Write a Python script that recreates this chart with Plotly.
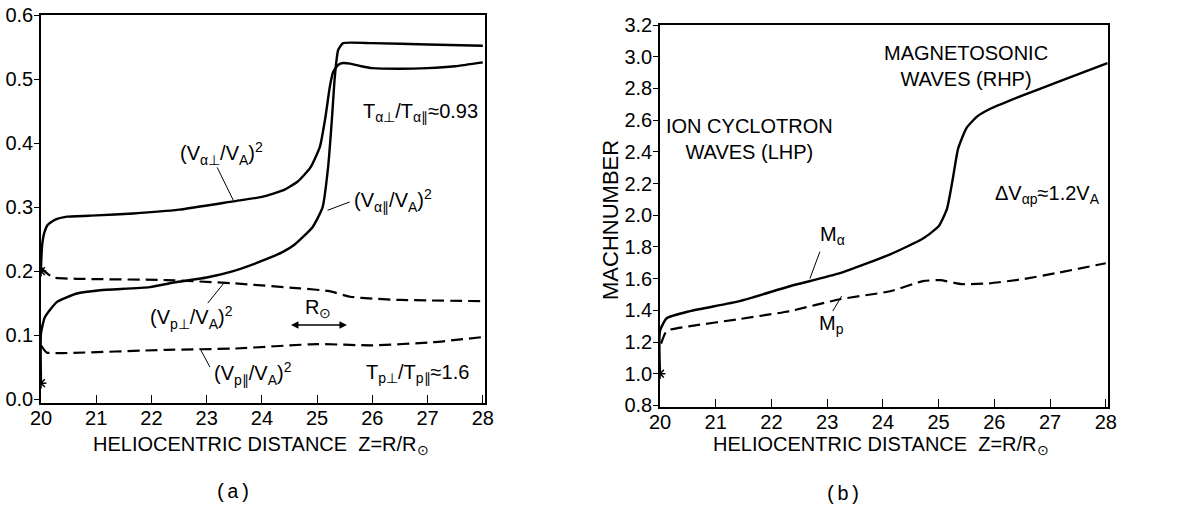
import plotly.graph_objects as go

# ---------------- data : panel (a) ----------------
va_perp_x = [20.0, 20.02, 20.06, 20.12, 20.25, 20.47, 21.0, 21.67, 22.5, 23.48, 24.0, 24.38, 24.65,
             24.88, 25.05, 25.15, 25.23, 25.29, 25.38, 25.47, 25.6, 25.8, 26.0, 26.5, 27.0, 27.5, 28.0]
va_perp_y = [0.205, 0.24, 0.26, 0.272, 0.28, 0.285, 0.287, 0.290, 0.296, 0.309, 0.316, 0.326, 0.340,
             0.362, 0.394, 0.44, 0.488, 0.511, 0.522, 0.525, 0.524, 0.52, 0.517, 0.516, 0.517, 0.52, 0.526]

va_par_x = [20.0, 20.0, 20.07, 20.29, 20.65, 21.07, 21.97, 22.46, 23.0, 23.48, 24.09, 24.38, 24.6,
            24.92, 25.1, 25.2, 25.27, 25.32, 25.38, 25.47, 26.0, 27.0, 28.0]
va_par_y = [0.025, 0.103, 0.128, 0.152, 0.165, 0.170, 0.175, 0.183, 0.19, 0.20, 0.219, 0.23, 0.242,
            0.269, 0.30, 0.363, 0.44, 0.503, 0.545, 0.556, 0.556, 0.554, 0.552]

vp_perp_x = [20.0, 20.06, 20.22, 20.65, 22.27, 23.48, 24.69, 25.2, 25.6, 26.0, 26.5, 28.0]
vp_perp_y = [0.205, 0.2, 0.19, 0.188, 0.186, 0.181, 0.173, 0.169, 0.16, 0.157, 0.155, 0.153]

vp_par_x = [20.0, 20.1, 20.4, 22.27, 23.48, 25.0, 26.0, 27.1, 28.0]
vp_par_y = [0.084, 0.073, 0.072, 0.077, 0.079, 0.086, 0.084, 0.089, 0.097]

start_marks_a_x = [20.0, 20.0]
start_marks_a_y = [0.025, 0.2]

# ---------------- data : panel (b) ----------------
ma_x = [20.0, 20.0, 20.12, 20.54, 21.43, 22.33, 23.23, 24.13, 24.72, 25.0, 25.15, 25.25, 25.35,
        25.5, 25.7, 25.92, 26.51, 27.12, 28.03]
ma_y = [1.0, 1.27, 1.35, 1.395, 1.458, 1.552, 1.634, 1.753, 1.853, 1.93, 2.04, 2.22, 2.42,
        2.55, 2.625, 2.67, 2.756, 2.838, 2.96]

mp_x = [20.02, 20.12, 20.54, 21.43, 22.33, 23.23, 24.13, 24.72, 25.03, 25.43, 25.9, 26.5, 27.1, 28.0]
mp_y = [1.19, 1.27, 1.30, 1.345, 1.395, 1.47, 1.52, 1.584, 1.59, 1.565, 1.57, 1.596, 1.634, 1.697]

start_marks_b_x = [20.0]
start_marks_b_y = [1.0]

x_ticks = [20, 21, 22, 23, 24, 25, 26, 27, 28]
ya_ticks = [0.0, 0.1, 0.2, 0.3, 0.4, 0.5, 0.6]
yb_ticks = [0.8, 1.0, 1.2, 1.4, 1.6, 1.8, 2.0, 2.2, 2.4, 2.6, 2.8, 3.0, 3.2]

FONT = "Liberation Sans"
fig = go.Figure()

solid = dict(color="black", width=2.4, shape="spline", smoothing=0.5)
dashed = dict(color="black", width=2.2, dash="12px,6px", shape="spline", smoothing=0.5)

fig.add_trace(go.Scatter(x=va_perp_x, y=va_perp_y, mode="lines", line=solid, xaxis="x", yaxis="y"))
fig.add_trace(go.Scatter(x=va_par_x, y=va_par_y, mode="lines", line=solid, xaxis="x", yaxis="y"))
fig.add_trace(go.Scatter(x=vp_perp_x, y=vp_perp_y, mode="lines", line=dashed, xaxis="x", yaxis="y"))
fig.add_trace(go.Scatter(x=vp_par_x, y=vp_par_y, mode="lines", line=dashed, xaxis="x", yaxis="y"))
fig.add_trace(go.Scatter(x=start_marks_a_x, y=start_marks_a_y, mode="markers",
                         marker=dict(symbol="asterisk-open", size=9, color="black",
                                     line=dict(color="black", width=1.5)), xaxis="x", yaxis="y"))

fig.add_trace(go.Scatter(x=ma_x, y=ma_y, mode="lines", line=solid, xaxis="x2", yaxis="y2"))
fig.add_trace(go.Scatter(x=mp_x, y=mp_y, mode="lines", line=dashed, xaxis="x2", yaxis="y2"))
fig.add_trace(go.Scatter(x=start_marks_b_x, y=start_marks_b_y, mode="markers",
                         marker=dict(symbol="asterisk-open", size=9, color="black",
                                     line=dict(color="black", width=1.5)), xaxis="x2", yaxis="y2"))

H = 507
W = 1183
axis_common = dict(showgrid=False, zeroline=False, showline=True, linecolor="black", linewidth=1.5,
                   mirror=True, automargin=False,
                   tickfont=dict(family=FONT, size=20, color="black"))

fig.update_layout(
    width=W, height=H, margin=dict(l=0, r=0, t=0, b=0, autoexpand=False),
    paper_bgcolor="white", plot_bgcolor="white", showlegend=False,
    xaxis=dict(domain=[41 / W, 485 / W], range=[20, 28.04], tickvals=x_ticks, ticks="inside",
               ticklen=8, tickcolor="black", anchor="y", ticklabelstandoff=-4, **axis_common),
    yaxis=dict(domain=[1 - 403 / H, 1 - 15 / H], range=[-0.006, 0.6], tickvals=ya_ticks,
               tickformat=".1f", ticks="outside", ticklen=5, tickcolor="black", anchor="x",
               ticklabelstandoff=-3, **axis_common),
    xaxis2=dict(domain=[660 / W, 1108 / W], range=[20, 28.04], tickvals=x_ticks, ticks="inside",
                ticklen=8, tickcolor="black", anchor="y2", ticklabelstandoff=-4, **axis_common),
    yaxis2=dict(domain=[1 - 407 / H, 1 - 25 / H], range=[0.79, 3.2], tickvals=yb_ticks,
                tickformat=".1f", ticks="outside", ticklen=5, tickcolor="black", anchor="x2",
                ticklabelstandoff=-3, **axis_common),
)

ann = []


def txt(x, y, t, xref="x", yref="y", size=20, family=FONT, angle=0):
    ann.append(dict(x=x, y=y, xref=xref, yref=yref, text=t, showarrow=False,
                    xanchor="center", yanchor="middle",
                    font=dict(family=family, size=size, color="black"), textangle=angle))


# panel (a) labels
txt(26.88, 0.447, "T<sub>α⊥</sub>/T<sub>α∥</sub>≈0.93")
txt(23.26, 0.384, "(V<sub>α⊥</sub>/V<sub>A</sub>)<sup>2</sup>")
txt(26.37, 0.311, "(V<sub>α∥</sub>/V<sub>A</sub>)<sup>2</sup>")
txt(22.73, 0.128, "(V<sub>p⊥</sub>/V<sub>A</sub>)<sup>2</sup>")
txt(23.84, 0.040, "(V<sub>p∥</sub>/V<sub>A</sub>)<sup>2</sup>")
txt(26.82, 0.040, "T<sub>p⊥</sub>/T<sub>p∥</sub>≈1.6")
txt(25.01, 0.142, "R<sub>⊙</sub>")
# R_sun arrow
ann.append(dict(x=25.54, y=0.116, ax=24.5, ay=0.116, xref="x", yref="y", axref="x", ayref="y",
                text="", showarrow=True, arrowhead=2, arrowside="end+start", arrowsize=1,
                arrowwidth=1.5, arrowcolor="black"))

# panel (b) labels
txt(25.49, 2.94, "MAGNETOSONIC<br>WAVES (RHP)", "x2", "y2")
txt(21.6, 2.48, "ION CYCLOTRON<br>WAVES (LHP)", "x2", "y2")
txt(26.96, 2.129, "ΔV<sub>αp</sub>≈1.2V<sub>A</sub>", "x2", "y2")
txt(23.09, 1.87, "M<sub>α</sub>", "x2", "y2")
txt(23.07, 1.31, "M<sub>p</sub>", "x2", "y2")

# axis titles and panel captions (paper coords)
txt(261 / W, 1 - 445 / H, "HELIOCENTRIC DISTANCE  Z=R/R<sub>⊙</sub>", "paper", "paper", size=20)
txt(881 / W, 1 - 445 / H, "HELIOCENTRIC DISTANCE  Z=R/R<sub>⊙</sub>", "paper", "paper", size=20)
txt(610 / W, 1 - 220 / H, "MACHNUMBER", "paper", "paper", size=22, angle=-90)
txt(233 / W, 1 - 492 / H, "(a)", "paper", "paper", size=20, family="Liberation Mono")
txt(843 / W, 1 - 494 / H, "(b)", "paper", "paper", size=20, family="Liberation Mono")

fig.update_layout(annotations=ann)

# leader lines
lead = dict(color="black", width=1)
shapes = [
    dict(type="line", xref="x", yref="y", x0=23.48, y0=0.311, x1=23.19, y1=0.362, line=lead),
    dict(type="line", xref="x", yref="y", x0=25.19, y0=0.295, x1=25.59, y1=0.308, line=lead),
    dict(type="line", xref="x", yref="y", x0=23.3, y0=0.180, x1=23.02, y1=0.150, line=lead),
    dict(type="line", xref="x", yref="y", x0=22.88, y0=0.079, x1=23.06, y1=0.050, line=lead),
    dict(type="line", xref="x2", yref="y2", x0=22.69, y0=1.60, x1=22.87, y1=1.77, line=lead),
    dict(type="line", xref="x2", yref="y2", x0=23.26, y0=1.49, x1=23.1, y1=1.395, line=lead),
]
fig.update_layout(shapes=shapes)

fig.write_html("out.html", config={"displayModeBar": False},
               post_script="document.body.style.margin='0';document.body.style.overflow='hidden';")
